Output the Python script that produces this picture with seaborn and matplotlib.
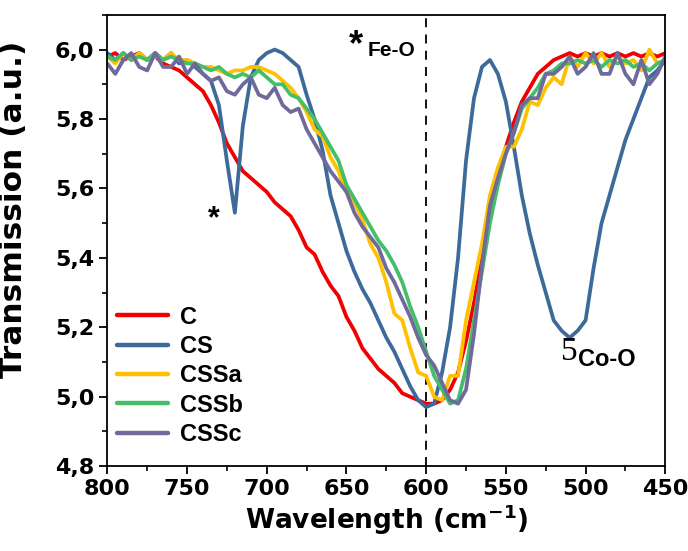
import numpy as np
import pandas as pd
import seaborn as sns
import matplotlib.pyplot as plt
from matplotlib.ticker import MultipleLocator, FuncFormatter

# wavenumber grid (cm-1), 800 -> 450 every 5
wn = list(range(800, 449, -5))

C = [5.98, 5.99, 5.97, 5.98, 5.99, 5.97, 5.98, 5.96, 5.95, 5.94,
     5.92, 5.90, 5.88, 5.84, 5.79, 5.73, 5.69, 5.65, 5.63, 5.61,
     5.59, 5.56, 5.54, 5.52, 5.48, 5.43, 5.41, 5.36, 5.32, 5.29,
     5.23, 5.19, 5.14, 5.11, 5.08, 5.06, 5.04, 5.01, 5.00, 4.99,
     4.98, 4.98, 4.99, 5.02, 5.07, 5.16, 5.27, 5.40, 5.52, 5.62,
     5.72, 5.79, 5.85, 5.89, 5.93, 5.95, 5.97, 5.98, 5.99, 5.98,
     5.99, 5.98, 5.99, 5.98, 5.99, 5.98, 5.99, 5.98, 5.99, 5.98,
     5.99]

CS = [5.99, 5.97, 5.99, 5.97, 5.99, 5.97, 5.99, 5.97, 5.99, 5.96,
      5.97, 5.95, 5.93, 5.91, 5.84, 5.68, 5.53, 5.78, 5.92, 5.97,
      5.99, 6.00, 5.99, 5.97, 5.95, 5.87, 5.80, 5.71, 5.58, 5.50,
      5.42, 5.36, 5.31, 5.27, 5.22, 5.17, 5.13, 5.08, 5.03, 4.99,
      4.97, 4.98, 5.07, 5.20, 5.40, 5.68, 5.86, 5.95, 5.97, 5.93,
      5.85, 5.72, 5.58, 5.47, 5.38, 5.30, 5.22, 5.19, 5.17, 5.19,
      5.22, 5.37, 5.50, 5.58, 5.66, 5.74, 5.80, 5.86, 5.92, 5.94,
      5.97]

CSSa = [5.98, 5.96, 5.99, 5.97, 5.99, 5.97, 5.98, 5.97, 5.99, 5.97,
        5.97, 5.96, 5.95, 5.95, 5.94, 5.93, 5.94, 5.94, 5.95, 5.95,
        5.94, 5.93, 5.91, 5.89, 5.86, 5.82, 5.77, 5.75, 5.69, 5.65,
        5.59, 5.56, 5.51, 5.44, 5.40, 5.33, 5.24, 5.22, 5.14, 5.07,
        5.06, 5.00, 4.99, 5.06, 5.06, 5.22, 5.33, 5.44, 5.58, 5.66,
        5.72, 5.72, 5.77, 5.85, 5.84, 5.89, 5.92, 5.90, 5.98, 5.95,
        5.99, 5.96, 5.99, 5.95, 5.98, 5.96, 5.97, 5.94, 6.00, 5.96,
        5.97]

CSSb = [5.98, 5.97, 5.99, 5.97, 5.98, 5.97, 5.99, 5.97, 5.98, 5.97,
        5.96, 5.96, 5.95, 5.94, 5.95, 5.93, 5.92, 5.93, 5.92, 5.94,
        5.92, 5.90, 5.90, 5.87, 5.86, 5.83, 5.80, 5.76, 5.72, 5.68,
        5.61, 5.57, 5.53, 5.49, 5.45, 5.42, 5.38, 5.33, 5.26, 5.20,
        5.13, 5.06, 5.02, 4.98, 4.99, 5.08, 5.22, 5.36, 5.50, 5.61,
        5.70, 5.76, 5.83, 5.86, 5.89, 5.93, 5.94, 5.96, 5.96, 5.97,
        5.96, 5.97, 5.95, 5.97, 5.96, 5.97, 5.95, 5.96, 5.94, 5.96,
        5.97]

CSSc = [5.96, 5.93, 5.97, 5.99, 5.95, 5.94, 5.99, 5.95, 5.95, 5.98,
        5.93, 5.96, 5.93, 5.91, 5.92, 5.88, 5.87, 5.90, 5.92, 5.87,
        5.86, 5.89, 5.84, 5.82, 5.83, 5.77, 5.73, 5.69, 5.65, 5.62,
        5.59, 5.53, 5.49, 5.46, 5.43, 5.37, 5.33, 5.28, 5.23, 5.17,
        5.12, 5.09, 5.04, 4.99, 4.98, 5.02, 5.18, 5.38, 5.55, 5.63,
        5.70, 5.76, 5.84, 5.86, 5.86, 5.93, 5.93, 5.95, 5.98, 5.93,
        5.95, 5.99, 5.93, 5.93, 5.99, 5.93, 5.90, 5.97, 5.90, 5.93,
        5.98]

names = ["C", "CS", "CSSa", "CSSb", "CSSc"]
colors = ["#F00000", "#3C6A9A", "#FFC000", "#45BE6A", "#6E6A9C"]

series = [C, CS, CSSa, CSSb, CSSc]
frames = []
for nm, vals in zip(names, series):
    frames.append(pd.DataFrame({"wn": wn, "T": vals, "sample": nm}))
df = pd.concat(frames, ignore_index=True)

sns.set_style("ticks", {"axes.edgecolor": "black", "xtick.color": "black",
                        "ytick.color": "black", "text.color": "black",
                        "axes.labelcolor": "black"})
plt.rcParams['font.family'] = ['Liberation Sans', 'DejaVu Sans']
plt.rcParams['mathtext.fontset'] = 'dejavusans'

fig = plt.figure(figsize=(6.88, 5.51), dpi=100)
ax = fig.add_axes([0.156, 0.154, 0.811, 0.819])

sns.lineplot(data=df, x="wn", y="T", hue="sample", palette=dict(zip(names, colors)),
             sort=False, linewidth=2.7, ax=ax)

ax.axvline(600, color="black", linestyle=(0, (5, 4)), linewidth=1.3, zorder=0)

ax.set_xlim(800, 450)
ax.set_ylim(4.8, 6.1)
ax.xaxis.set_major_locator(MultipleLocator(50))
ax.xaxis.set_minor_locator(MultipleLocator(25))
ax.yaxis.set_major_locator(MultipleLocator(0.2))
ax.yaxis.set_minor_locator(MultipleLocator(0.1))
ax.yaxis.set_major_formatter(FuncFormatter(lambda v, p: f"{v:.1f}".replace(".", ",")))
ax.tick_params(which="major", direction="out", length=6, width=1.3, colors="black")
ax.tick_params(which="minor", direction="out", length=3.5, width=1.2, colors="black")
for lab in ax.get_xticklabels() + ax.get_yticklabels():
    lab.set_family('DejaVu Sans')
    lab.set_fontweight('bold')
    lab.set_fontsize(16)
for sp in ax.spines.values():
    sp.set_linewidth(1.3)

ax.set_xlabel(r"Wavelength (cm$^{\mathbf{-1}}$)", fontsize=19, fontweight="bold",
              family='DejaVu Sans', labelpad=2)
ax.set_ylabel("Transmission (a.u.)", fontsize=22.5, fontweight="bold",
              family='DejaVu Sans')
ax.yaxis.set_label_coords(-0.143, 0.57)

leg = ax.legend(loc="lower left", bbox_to_anchor=(-0.012, 0.008), frameon=False,
                prop={"weight": "bold", "size": 17}, handlelength=2.15,
                handletextpad=0.5, labelspacing=0.27, borderaxespad=0.3)
for l in leg.get_lines():
    l.set_linewidth(3.2)

ax.text(733, 5.51, "*", fontsize=22, fontweight="bold", ha="center", va="center")
ax.text(644, 6.01, "*", fontsize=26, fontweight="bold", ha="center", va="center")
ax.text(637, 5.997, "Fe-O", fontsize=15, fontweight="bold", ha="left", va="center")
ax.text(510, 5.13, "5", fontsize=24, family="Liberation Serif", ha="center", va="center")
ax.text(505, 5.107, "Co-O", fontsize=17, fontweight="bold", ha="left", va="center")

fig.savefig("out.png", dpi=100)
